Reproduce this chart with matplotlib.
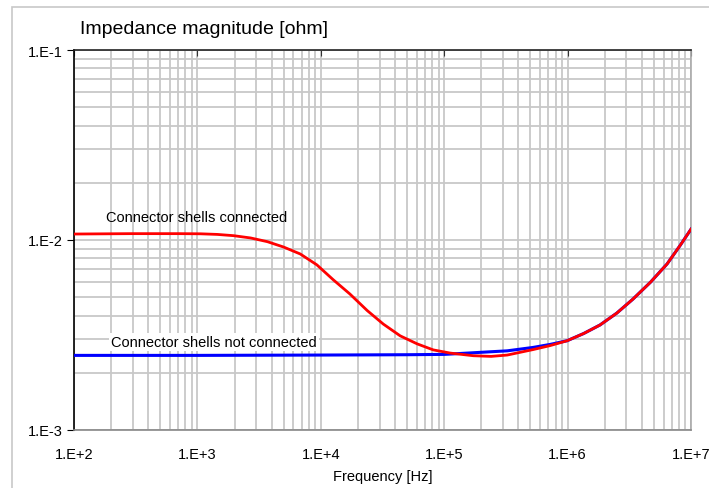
import numpy as np
import matplotlib
matplotlib.use("Agg")
import matplotlib.pyplot as plt
from matplotlib.patches import Rectangle

plt.rcParams['font.family'] = ['Liberation Sans', 'DejaVu Sans']

# Data (frequency in Hz, impedance in ohm)
freq_connected = [1e2, 2.9e2, 7.0e2, 1.06e3, 1.45e3, 1.96e3, 2.7e3, 3.69e3, 5.0e3, 6.82e3,
                  9.29e3, 1.26e4, 1.72e4, 2.38e4, 3.21e4, 4.40e4, 6.04e4, 8.15e4,
                  1.12e5, 1.72e5, 2.4e5, 3.24e5, 5.25e5, 7.2e5, 9.91e5, 1.35e6, 1.83e6,
                  2.5e6, 3.39e6, 4.7e6, 6.4e6, 8.2e6, 1.0e7]
z_connected = [0.01075, 0.0108, 0.0108, 0.01078, 0.01070, 0.01054, 0.01025, 0.00980,
               0.00918, 0.00844, 0.00740, 0.00618, 0.00520, 0.00425, 0.00361, 0.00313,
               0.00284, 0.00264, 0.00254, 0.00246, 0.00244, 0.00248, 0.00265, 0.00278,
               0.00295, 0.00322, 0.00357, 0.00412, 0.00489, 0.00600, 0.00748, 0.0094,
               0.0114]

freq_not_connected = [1e2, 1.0e3, 1.0e4, 5.0e4, 1.0e5, 1.72e5, 3.24e5, 5.25e5, 7.2e5,
                      9.91e5, 1.35e6, 1.83e6, 2.5e6, 3.39e6, 4.7e6, 6.4e6, 8.2e6, 1.0e7]
z_not_connected = [0.00247, 0.00247, 0.00248, 0.00249, 0.00250, 0.00255, 0.00261,
                   0.00272, 0.00282, 0.00295, 0.00322, 0.00357, 0.00412, 0.00489,
                   0.00600, 0.00748, 0.0094, 0.0114]

x_ticks = [1e2, 1e3, 1e4, 1e5, 1e6, 1e7]
x_tick_labels = ["1.E+2", "1.E+3", "1.E+4", "1.E+5", "1.E+6", "1.E+7"]
y_ticks = [1e-3, 1e-2, 1e-1]
y_tick_labels = ["1.E-3", "1.E-2", "1.E-1"]

W, H = 709, 489
fig = plt.figure(figsize=(W / 100, H / 100), dpi=100)

# outer frame
fig.patches.append(Rectangle((12 / W, -0.1), 1.2, (H - 8) / H + 0.1, transform=fig.transFigure,
                             fill=False, edgecolor='#c8c8c8', linewidth=1.2))

ax = fig.add_axes([74 / W, (H - 431) / H, (691 - 74) / W, (431 - 51) / H])
ax.set_xscale('log')
ax.set_yscale('log')
ax.set_xlim(1e2, 1e7)
ax.set_ylim(1e-3, 1e-1)

ax.grid(True, which='both', color='#c8c8c8', linewidth=1.3)
ax.set_axisbelow(True)

ax.plot(freq_not_connected, z_not_connected, color='#0000ff', linewidth=2.2, zorder=3)
ax.plot(freq_connected, z_connected, color='#ff0000', linewidth=2.0, zorder=4)

ax.set_xticks(x_ticks)
ax.set_xticklabels(x_tick_labels)
ax.set_yticks(y_ticks)
ax.set_yticklabels(y_tick_labels)
ax.xaxis.set_minor_formatter(plt.NullFormatter())
ax.yaxis.set_minor_formatter(plt.NullFormatter())
ax.tick_params(axis='x', which='major', bottom=False, top=True, direction='in', length=4,
               color='#333333', labelsize=10.5, pad=12)
ax.tick_params(axis='x', which='minor', bottom=False, top=False)
ax.tick_params(axis='y', which='major', left=True, direction='out', length=5,
               labelsize=10.5, pad=3)
ax.tick_params(axis='y', which='minor', left=False)

ax.spines['left'].set_color('black')
ax.spines['top'].set_color('#222222')
ax.spines['right'].set_color('#aaaaaa')
ax.spines['bottom'].set_color('#888888')
for s in ax.spines.values():
    s.set_linewidth(1.2)

ax.set_xlabel("Frequency [Hz]", fontsize=10.5, labelpad=6)
fig.text(80 / W, (H - 30) / H, "Impedance magnitude [ohm]", fontsize=14, va='center', ha='left')

ax.text(1.8e2, 0.0132, "Connector shells connected",
        fontsize=10.5, va='center', ha='left', zorder=5)
ax.text(2.0e2, 0.00289, "Connector shells not connected", fontsize=10.5, va='center', ha='left',
        zorder=5, bbox=dict(facecolor='white', edgecolor='none', pad=1.5))

fig.savefig("out.png", dpi=100)
